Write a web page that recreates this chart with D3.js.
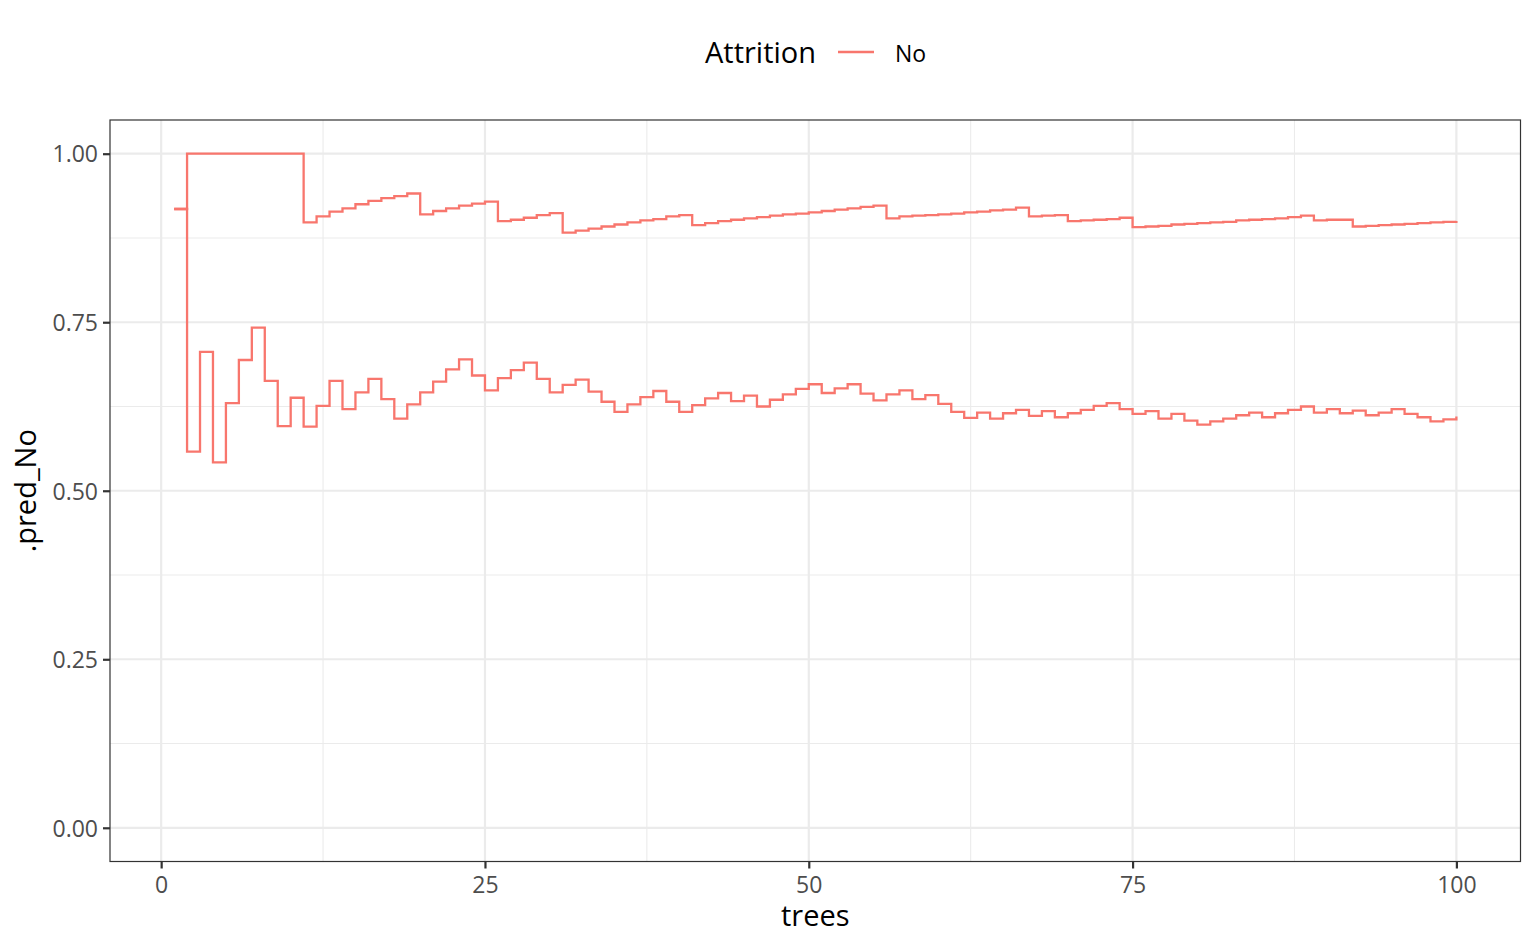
<!DOCTYPE html>
<html>
<head>
<meta charset="utf-8">
<script src="https://cdn.jsdelivr.net/npm/d3@7"></script>
<style>
  body { margin: 0; background: #fff; }
  svg { display: block; font-family: "Open Sans", "Noto Sans", sans-serif; }
</style>
</head>
<body>
<svg id="chart"></svg>
<script>
// tree counts on the x axis
const trees = [
  1, 2, 3, 4, 5, 6, 7, 8, 9, 10, 11, 12, 13, 14, 15, 16, 17, 18, 19, 20,
  21, 22, 23, 24, 25, 26, 27, 28, 29, 30, 31, 32, 33, 34, 35, 36, 37, 38, 39, 40,
  41, 42, 43, 44, 45, 46, 47, 48, 49, 50, 51, 52, 53, 54, 55, 56, 57, 58, 59, 60,
  61, 62, 63, 64, 65, 66, 67, 68, 69, 70, 71, 72, 73, 74, 75, 76, 77, 78, 79, 80,
  81, 82, 83, 84, 85, 86, 87, 88, 89, 90, 91, 92, 93, 94, 95, 96, 97, 98, 99, 100,
];

// .pred_No for the two observations (upper and lower path)
const predUpper = [
  0.918, 1.0, 1.0, 1.0, 1.0, 1.0, 1.0, 1.0, 1.0, 1.0,
  0.898, 0.907, 0.914, 0.919, 0.925, 0.93, 0.934, 0.937, 0.941, 0.91,
  0.915, 0.919, 0.923, 0.926, 0.929, 0.9, 0.902, 0.905, 0.909, 0.912,
  0.883, 0.886, 0.889, 0.892, 0.895, 0.898, 0.901, 0.903, 0.907, 0.909,
  0.894, 0.897, 0.9, 0.902, 0.904, 0.906, 0.908, 0.91, 0.911, 0.913,
  0.915, 0.917, 0.919, 0.921, 0.923, 0.904, 0.907, 0.908, 0.909, 0.91,
  0.911, 0.913, 0.914, 0.916, 0.917, 0.92, 0.907, 0.908, 0.909, 0.9,
  0.901, 0.902, 0.903, 0.905, 0.891, 0.892, 0.893, 0.895, 0.896, 0.897,
  0.898, 0.899, 0.901, 0.902, 0.903, 0.904, 0.906, 0.908, 0.901, 0.902,
  0.902, 0.892, 0.893, 0.894, 0.895, 0.896, 0.897, 0.898, 0.899, 0.9,
];

const predLower = [
  0.918, 0.558, 0.706, 0.542, 0.63, 0.694, 0.742, 0.663, 0.596, 0.638,
  0.595, 0.626, 0.663, 0.621, 0.646, 0.666, 0.636, 0.607, 0.628, 0.646,
  0.662, 0.68, 0.695, 0.671, 0.649, 0.667, 0.679, 0.69, 0.666, 0.646,
  0.657, 0.665, 0.647, 0.632, 0.617, 0.628, 0.639, 0.648, 0.632, 0.617,
  0.627, 0.637, 0.645, 0.633, 0.641, 0.625, 0.635, 0.643, 0.651, 0.658,
  0.645, 0.652, 0.658, 0.644, 0.634, 0.643, 0.649, 0.636, 0.642, 0.629,
  0.617, 0.608, 0.616, 0.607, 0.615, 0.62, 0.611, 0.618, 0.609, 0.615,
  0.62, 0.626, 0.63, 0.621, 0.614, 0.618, 0.607, 0.614, 0.604, 0.598,
  0.603, 0.607, 0.612, 0.616, 0.609, 0.615, 0.62, 0.625, 0.616, 0.621,
  0.615, 0.619, 0.612, 0.616, 0.621, 0.614, 0.609, 0.603, 0.606, 0.61,
];

const xTicks = [0, 25, 50, 75, 100];
const xMinor = [12.5, 37.5, 62.5, 87.5];
const yTicks = [0, 0.25, 0.5, 0.75, 1];
const yMinor = [0.125, 0.375, 0.625, 0.875];

const legendTitle = "Attrition";
const legendLabel = "No";

// layout
const width = 1536;
const height = 949;
const panel = { left: 110, right: 1520.5, top: 120, bottom: 861.5 };
const lineColor = "#F8766D";
const gridColor = "#EBEBEB";
const tickFont = "23px";
const titleFont = "29px";

const svg = d3.select("#chart").attr("width", width).attr("height", height);

// ggplot style 5% expansion
const xSpan = d3.max(trees) - d3.min(trees);
const xScale = d3
  .scaleLinear()
  .domain([d3.min(trees) - xSpan * 0.05, d3.max(trees) + xSpan * 0.05])
  .range([panel.left, panel.right]);

const yScale = d3
  .scaleLinear()
  .domain([-0.05, 1.05])
  .range([panel.bottom, panel.top]);

// grid
const grid = svg.append("g");
const vLines = (vals, w) =>
  grid
    .append("g")
    .selectAll("line")
    .data(vals)
    .enter()
    .append("line")
    .attr("x1", (d) => xScale(d))
    .attr("x2", (d) => xScale(d))
    .attr("y1", panel.top)
    .attr("y2", panel.bottom)
    .attr("stroke", gridColor)
    .attr("stroke-width", w);
const hLines = (vals, w) =>
  grid
    .append("g")
    .selectAll("line")
    .data(vals)
    .enter()
    .append("line")
    .attr("x1", panel.left)
    .attr("x2", panel.right)
    .attr("y1", (d) => yScale(d))
    .attr("y2", (d) => yScale(d))
    .attr("stroke", gridColor)
    .attr("stroke-width", w);
vLines(xMinor, 1.1);
hLines(yMinor, 1.1);
vLines(xTicks, 2.2);
hLines(yTicks, 2.2);

// step lines (geom_step, direction "hv")
const stepLine = d3
  .line()
  .curve(d3.curveStepAfter)
  .x((d) => xScale(d.tree))
  .y((d) => yScale(d.pred));

const series = [predUpper, predLower].map((vals) =>
  trees.map((t, i) => ({ tree: t, pred: vals[i] }))
);

svg
  .append("g")
  .selectAll("path")
  .data(series)
  .enter()
  .append("path")
  .attr("d", stepLine)
  .attr("fill", "none")
  .attr("stroke", lineColor)
  .attr("stroke-width", 2.3);

// panel border
svg
  .append("rect")
  .attr("x", panel.left)
  .attr("y", panel.top)
  .attr("width", panel.right - panel.left)
  .attr("height", panel.bottom - panel.top)
  .attr("fill", "none")
  .attr("stroke", "#333333")
  .attr("stroke-width", 1.2);

// axes
const xAxis = d3.axisBottom(xScale).tickValues(xTicks).tickSize(7).tickPadding(5);
const xG = svg
  .append("g")
  .attr("transform", "translate(0," + panel.bottom + ")")
  .call(xAxis);

const yAxis = d3
  .axisLeft(yScale)
  .tickValues(yTicks)
  .tickFormat(d3.format(".2f"))
  .tickSize(7)
  .tickPadding(5);
const yG = svg
  .append("g")
  .attr("transform", "translate(" + panel.left + ",0)")
  .call(yAxis);

[xG, yG].forEach((g) => {
  g.select(".domain").remove();
  g.selectAll(".tick line").attr("stroke", "#333333").attr("stroke-width", 2.2);
  g.selectAll(".tick text")
    .attr("fill", "#4D4D4D")
    .style("font-size", tickFont)
    .style("font-family", '"Open Sans", "Noto Sans", sans-serif');
});
xG.selectAll(".tick text").attr("dy", "0.85em");
yG.selectAll(".tick text").attr("dy", "0.36em");

// axis titles
svg
  .append("text")
  .attr("x", (panel.left + panel.right) / 2)
  .attr("y", 926)
  .attr("text-anchor", "middle")
  .attr("fill", "#000")
  .style("font-size", titleFont)
  .text("trees");

svg
  .append("text")
  .attr("transform", "translate(36," + (panel.top + panel.bottom) / 2 + ") rotate(-90)")
  .attr("text-anchor", "middle")
  .attr("fill", "#000")
  .style("font-size", titleFont)
  .text(".pred_No");

// legend
const legend = svg.append("g");
legend
  .append("text")
  .attr("x", 705)
  .attr("y", 63)
  .attr("fill", "#000")
  .style("font-size", titleFont)
  .text(legendTitle);
legend
  .append("line")
  .attr("x1", 838)
  .attr("x2", 874)
  .attr("y1", 52)
  .attr("y2", 52)
  .attr("stroke", lineColor)
  .attr("stroke-width", 2.4);
legend
  .append("text")
  .attr("x", 895)
  .attr("y", 61.5)
  .attr("fill", "#000")
  .style("font-size", tickFont)
  .text(legendLabel);
</script>
</body>
</html>
